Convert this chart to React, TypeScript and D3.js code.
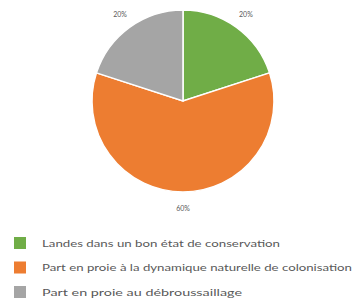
import { useEffect, useRef } from 'react';
import * as d3 from 'd3';

const categories = [
  'Landes dans un bon état de conservation',
  'Part en proie à la dynamique naturelle de colonisation',
  'Part en proie au débroussaillage',
];
const values = [20, 60, 20];
const colors = ['#70AD47', '#ED7D31', '#A5A5A5'];
const legendWidths = [238, 310, 200];

export default function App() {
  const svgRef = useRef<SVGSVGElement | null>(null);

  useEffect(() => {
    if (!svgRef.current) return;
    const width = 360;
    const height = 300;
    const cx = 183;
    const cy = 101;
    const radius = 91;

    const svg = d3.select(svgRef.current);
    svg.selectAll('*').remove();
    svg.attr('width', width).attr('height', height);

    const data = categories.map((c, i) => ({ name: c, value: values[i], color: colors[i] }));

    const pie = d3.pie<any>().sort(null).value(d => d.value);
    const arc = d3.arc<any>().innerRadius(0).outerRadius(radius);
    const labelArc = d3.arc<any>().innerRadius(107).outerRadius(107);
    const arcs = pie(data);

    const g = svg.append('g').attr('transform', `translate(${cx},${cy})`);

    g.selectAll('path')
      .data(arcs)
      .join('path')
      .attr('d', arc)
      .attr('fill', d => d.data.color)
      .attr('stroke', '#fff')
      .attr('stroke-width', 1.5);

    // Percent labels
    const total = d3.sum(values);
    g.selectAll('.pct')
      .data(arcs)
      .join('text')
      .attr('class', 'pct')
      .attr('transform', d => `translate(${labelArc.centroid(d)})`)
      .attr('text-anchor', 'middle')
      .attr('dominant-baseline', 'central')
      .attr('font-family', 'Lato, sans-serif')
      .attr('font-size', '7px')
      .attr('fill', '#595959')
      .text(d => `${Math.round((d.data.value / total) * 100)}%`);

    // Legend
    const legend = svg.append('g').attr('transform', 'translate(14,237)');
    const item = legend.selectAll('.item')
      .data(data)
      .join('g')
      .attr('class', 'item')
      .attr('transform', (d, i) => `translate(0,${i * 24.5})`);

    item.append('rect')
      .attr('width', 12)
      .attr('height', 12)
      .attr('fill', d => d.color);

    item.append('text')
      .attr('x', 28)
      .attr('y', 6.5)
      .attr('dominant-baseline', 'central')
      .attr('font-family', 'Lato, sans-serif')
      .attr('font-size', '8.5px')
      .attr('fill', '#595959')
      .attr('textLength', (d, i) => legendWidths[i])
      .attr('lengthAdjust', 'spacingAndGlyphs')
      .text(d => d.name);
  }, []);

  return (
    <div style={{ position: 'absolute', left: 0, top: 0, background: '#fff' }}>
      <svg ref={svgRef}></svg>
    </div>
  );
}
